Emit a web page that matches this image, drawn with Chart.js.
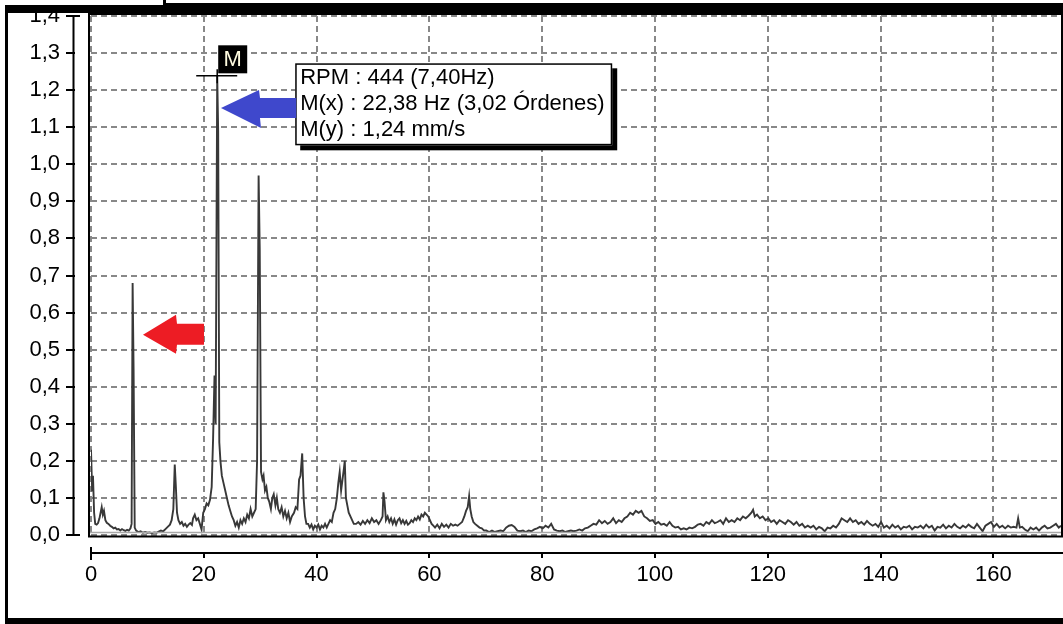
<!DOCTYPE html>
<html>
<head>
<meta charset="utf-8">
<script src="https://cdn.jsdelivr.net/npm/chart.js@4.4.1/dist/chart.umd.min.js"></script>
<style>
  html, body { margin: 0; padding: 0; background: #ffffff; }
  #wrap { position: relative; width: 1063px; height: 624px; overflow: hidden; }
  canvas { display: block; }
</style>
</head>
<body>
<div id="wrap"><canvas id="c" width="1063" height="624"></canvas></div>
<script>
// ---- Data ----
const freqHz = [
  0, 0.2, 0.35, 0.55, 0.75, 1.0, 1.25, 1.5, 1.7, 1.9, 2.1, 2.3, 2.55, 2.8, 3.1, 3.4, 3.7, 4.0, 4.3, 4.6,
  4.9, 5.2, 5.5, 5.8, 6.1, 6.4, 6.7, 7.0, 7.2, 7.38, 7.55, 7.75, 8.0, 8.4, 8.8, 9.2, 9.6, 10.0, 10.4, 10.8,
  11.2, 11.6, 12.0, 12.4, 12.8, 13.2, 13.6, 14.0, 14.3, 14.6, 14.85, 15.05, 15.25, 15.5, 15.8, 16.1, 16.4, 16.7, 17.0, 17.3,
  17.6, 17.9, 18.1, 18.4, 18.7, 19.0, 19.3, 19.6, 19.9, 20.2, 20.5, 20.8, 21.1, 21.4, 21.65, 21.9, 22.1, 22.38, 22.55, 22.75,
  22.95, 23.2, 23.5, 23.8, 24.1, 24.4, 24.7, 25.0, 25.3, 25.6, 25.9, 26.2, 26.5, 26.8, 27.1, 27.4, 27.7, 28.0, 28.3, 28.6,
  28.9, 29.2, 29.45, 29.72, 29.92, 30.15, 30.4, 30.6, 30.85, 31.1, 31.35, 31.6, 31.9, 32.15, 32.4, 32.7, 32.95, 33.2, 33.5, 33.8,
  34.1, 34.4, 34.7, 35.0, 35.3, 35.6, 36.0, 36.3, 36.6, 36.9, 37.15, 37.45, 37.7, 37.95, 38.2, 38.5, 38.8, 39.1, 39.4, 39.7,
  40.0, 40.3, 40.6, 40.9, 41.2, 41.5, 41.8, 42.1, 42.4, 42.7, 43.0, 43.3, 43.6, 43.85, 44.1, 44.35, 44.6, 44.85, 45.0, 45.2,
  45.45, 45.7, 46.0, 46.3, 46.6, 47.0, 47.4, 47.8, 48.2, 48.6, 49.0, 49.4, 49.8, 50.2, 50.6, 51.0, 51.4, 51.7, 51.85, 52.05,
  52.3, 52.6, 52.9, 53.2, 53.5, 53.8, 54.1, 54.4, 54.7, 55.0, 55.3, 55.6, 55.9, 56.2, 56.5, 56.8, 57.1, 57.4, 57.7, 58.0,
  58.3, 58.6, 58.9, 59.2, 59.5, 59.8, 60.1, 60.4, 60.7, 61.0, 61.4, 61.8, 62.2, 62.6, 63.0, 63.4, 63.8, 64.2, 64.6, 65.0,
  65.4, 65.8, 66.2, 66.5, 66.8, 67.05, 67.25, 67.5, 67.8, 68.1, 68.5, 68.9, 69.3, 69.7, 70.1, 70.6, 71.1, 71.6, 72.1, 72.6,
  73.1, 73.6, 74.1, 74.6, 75.1, 75.6, 76.1, 76.6, 77.1, 77.6, 78.1, 78.6, 79.1, 79.6, 80.1, 80.6, 81.1, 81.6, 82.1, 82.6,
  83.1, 83.6, 84.1, 84.6, 85.1, 85.6, 86.1, 86.6, 87.1, 87.6, 88.1, 88.6, 89.1, 89.6, 90.1, 90.6, 91.1, 91.6, 92.1, 92.6,
  93.1, 93.6, 94.1, 94.6, 95.1, 95.6, 96.1, 96.6, 97.1, 97.6, 98.1, 98.6, 99.1, 99.6, 100.1, 100.6, 101.1, 101.6, 102.1, 102.6,
  103.1, 103.6, 104.1, 104.6, 105.1, 105.6, 106.1, 106.6, 107.1, 107.6, 108.1, 108.6, 109.1, 109.6, 110.1, 110.6, 111.1, 111.6, 112.1, 112.6,
  113.1, 113.6, 114.1, 114.6, 115.1, 115.6, 116.1, 116.6, 117.1, 117.4, 117.7, 118.1, 118.6, 119.1, 119.6, 120.1, 120.6, 121.1, 121.6, 122.1,
  122.6, 123.1, 123.6, 124.1, 124.6, 125.1, 125.6, 126.1, 126.6, 127.1, 127.6, 128.1, 128.6, 129.1, 129.6, 130.1, 130.6, 131.1, 131.6, 132.1,
  132.6, 133.1, 133.6, 134.1, 134.6, 135.1, 135.6, 136.1, 136.6, 137.1, 137.6, 138.1, 138.6, 139.1, 139.6, 140.1, 140.6, 141.1, 141.6, 142.1,
  142.6, 143.1, 143.6, 144.1, 144.6, 145.1, 145.6, 146.1, 146.6, 147.1, 147.6, 148.1, 148.6, 149.1, 149.6, 150.1, 150.6, 151.1, 151.6, 152.1,
  152.6, 153.1, 153.6, 154.1, 154.6, 155.1, 155.6, 156.1, 156.6, 157.1, 157.6, 158.1, 158.6, 159.1, 159.6, 160.1, 160.6, 161.1, 161.6, 162.1,
  162.6, 163.1, 163.6, 164.1, 164.4, 164.7, 165.1, 165.6, 166.1, 166.6, 167.1, 167.6, 168.1, 168.6, 169.1, 169.6, 170.1, 170.6, 171.1, 171.6,
  172.0
];
const velMmS = [
  0.23, 0.12, 0.16, 0.06, 0.03, 0.028, 0.032, 0.045, 0.06, 0.075, 0.055, 0.065, 0.04, 0.033, 0.03, 0.025, 0.022, 0.018, 0.02, 0.015,
  0.016, 0.012, 0.016, 0.013, 0.011, 0.014, 0.012, 0.018, 0.03, 0.68, 0.45, 0.02, 0.012, 0.008, 0.01, 0.006, 0.008, 0.006, 0.007, 0.005,
  0.007, 0.006, 0.009, 0.012, 0.01, 0.016, 0.022, 0.028, 0.04, 0.07, 0.19, 0.13, 0.06, 0.04, 0.03, 0.035, 0.025, 0.03, 0.022, 0.028,
  0.032, 0.027, 0.045, 0.055, 0.04, 0.045, 0.03, 0.015, 0.06, 0.07, 0.085, 0.08, 0.095, 0.13, 0.26, 0.43, 0.3, 1.24, 1.09, 0.25,
  0.2, 0.16, 0.14, 0.12, 0.1, 0.08, 0.065, 0.05, 0.04, 0.025, 0.035, 0.02, 0.04, 0.03, 0.045, 0.035, 0.055, 0.045, 0.07, 0.05,
  0.06, 0.07, 0.2, 0.97, 0.77, 0.17, 0.15, 0.16, 0.12, 0.13, 0.1, 0.09, 0.07, 0.1, 0.11, 0.08, 0.1, 0.07, 0.06, 0.075,
  0.05, 0.065, 0.045, 0.06, 0.035, 0.05, 0.06, 0.075, 0.07, 0.15, 0.16, 0.22, 0.1, 0.05, 0.03, 0.03, 0.02, 0.028, 0.015, 0.025,
  0.02, 0.028, 0.015, 0.025, 0.02, 0.03, 0.02, 0.03, 0.04, 0.035, 0.06, 0.07, 0.1, 0.14, 0.17, 0.12, 0.15, 0.18, 0.2, 0.1,
  0.08, 0.06, 0.05, 0.04, 0.03, 0.03, 0.035, 0.028, 0.038, 0.03, 0.04, 0.032, 0.045, 0.035, 0.04, 0.03, 0.04, 0.05, 0.115, 0.09,
  0.04, 0.05, 0.035, 0.045, 0.03, 0.042, 0.028, 0.04, 0.045, 0.032, 0.04, 0.03, 0.038, 0.028, 0.032, 0.04, 0.035, 0.045, 0.04, 0.05,
  0.042, 0.055, 0.05, 0.06, 0.055, 0.05, 0.04, 0.03, 0.025, 0.02, 0.028, 0.018, 0.03, 0.022, 0.028, 0.02, 0.03, 0.025, 0.028, 0.025,
  0.03, 0.035, 0.05, 0.065, 0.075, 0.105, 0.07, 0.05, 0.035, 0.03, 0.025, 0.02, 0.018, 0.012, 0.012, 0.008, 0.012, 0.008, 0.01, 0.012,
  0.01, 0.02, 0.025, 0.027, 0.022, 0.012, 0.01, 0.012, 0.008, 0.012, 0.01, 0.015, 0.018, 0.022, 0.018, 0.025, 0.02, 0.03, 0.015, 0.012,
  0.01, 0.012, 0.008, 0.01, 0.012, 0.01, 0.012, 0.015, 0.012, 0.018, 0.02, 0.025, 0.03, 0.028, 0.04, 0.032, 0.038, 0.03, 0.035, 0.045,
  0.032, 0.04, 0.035, 0.045, 0.05, 0.06, 0.055, 0.065, 0.06, 0.065, 0.05, 0.045, 0.038, 0.04, 0.03, 0.035, 0.028, 0.03, 0.025, 0.035,
  0.025, 0.02, 0.022, 0.015, 0.018, 0.015, 0.02, 0.018, 0.022, 0.028, 0.03, 0.025, 0.035, 0.03, 0.04, 0.032, 0.035, 0.04, 0.03, 0.045,
  0.035, 0.04, 0.035, 0.045, 0.04, 0.05, 0.045, 0.052, 0.06, 0.068, 0.05, 0.055, 0.045, 0.05, 0.04, 0.045, 0.035, 0.04, 0.03, 0.04,
  0.035, 0.03, 0.04, 0.035, 0.028, 0.035, 0.025, 0.03, 0.02, 0.025, 0.02, 0.025, 0.015, 0.022, 0.018, 0.01, 0.02, 0.018, 0.025, 0.02,
  0.03, 0.045, 0.04, 0.035, 0.045, 0.035, 0.04, 0.03, 0.035, 0.028, 0.038, 0.03, 0.025, 0.03, 0.022, 0.035, 0.02, 0.025, 0.018, 0.028,
  0.02, 0.025, 0.015, 0.022, 0.02, 0.025, 0.015, 0.022, 0.02, 0.025, 0.018, 0.028, 0.02, 0.025, 0.012, 0.022, 0.02, 0.028, 0.018, 0.025,
  0.02, 0.03, 0.022, 0.018, 0.025, 0.02, 0.028, 0.022, 0.018, 0.03, 0.02, 0.01, 0.025, 0.03, 0.035, 0.022, 0.03, 0.02, 0.025, 0.018,
  0.025, 0.02, 0.022, 0.02, 0.045, 0.02, 0.022, 0.015, 0.01, 0.02, 0.015, 0.02, 0.012, 0.02, 0.025, 0.018, 0.02, 0.025, 0.03, 0.02,
  0.025
];
const xTicksHz = [0, 20, 40, 60, 80, 100, 120, 140, 160];
const yRange = [0, 1.4];
const xRange = [0, 172];
const marker = { x: 22.38, y: 1.24 };
const infoLines = ['RPM : 444 (7,40Hz)', 'M(x) : 22,38 Hz (3,02 Órdenes)', 'M(y) : 1,24 mm/s'];
const blueArrowTip = { x: 23.05, y: 1.152 };
const redArrowTip = { x: 9.22, y: 0.54 };

const FONT = { family: "'Liberation Sans', Arial, sans-serif", size: 22 };
const fmt = v => v.toFixed(1).replace('.', ',');

// ---- Overlay plugin: detached axes, frame, marker, annotations ----
const overlay = {
  id: 'overlay',
  beforeDraw(chart) {
    const c = chart.ctx;
    c.save();
    c.fillStyle = '#ffffff';
    c.fillRect(0, 0, chart.width, chart.height);
    c.restore();
  },
  afterDatasetsDraw(chart) {
    const c = chart.ctx, a = chart.chartArea;
    const xs = chart.scales.x, ys = chart.scales.y;
    c.save();
    // gray line just above the bottom border
    c.strokeStyle = '#a8a8a8'; c.lineWidth = 1.5;
    c.beginPath(); c.moveTo(a.left - 2, a.bottom - 2.5); c.lineTo(a.right, a.bottom - 2.5); c.stroke();
    // plot border
    c.strokeStyle = '#000'; c.lineWidth = 2;
    c.beginPath();
    c.moveTo(a.left - 2, a.bottom + 1.5); c.lineTo(a.left - 2, a.top - 2);
    c.lineTo(a.right + 1, a.top - 2); c.lineTo(a.right + 1, a.bottom + 1.5);
    c.closePath(); c.stroke();

    // detached Y axis
    const yAxisX = 73.5;
    c.lineWidth = 2;
    c.beginPath(); c.moveTo(yAxisX, ys.getPixelForValue(yRange[1])); c.lineTo(yAxisX, ys.getPixelForValue(yRange[0])); c.stroke();
    ys.ticks.forEach((t, i) => {
      const py = Math.round(ys.getPixelForValue(t.value));
      const isEnd = (i === 0 || i === ys.ticks.length - 1);
      c.beginPath(); c.moveTo(66, py); c.lineTo(isEnd ? 80 : 75, py); c.stroke();
    });
    // detached X axis
    const xAxisY = 553;
    c.beginPath(); c.moveTo(xs.getPixelForValue(xRange[0]), xAxisY); c.lineTo(chart.width, xAxisY); c.stroke();
    xs.ticks.forEach((t, i) => {
      const px = Math.round(xs.getPixelForValue(t.value));
      c.beginPath();
      if (i === 0) { c.moveTo(px, 547); c.lineTo(px, 560); }
      else { c.moveTo(px, xAxisY); c.lineTo(px, 558); }
      c.stroke();
    });

    // marker crosshair + "M" label
    const mx = xs.getPixelForValue(marker.x), my = ys.getPixelForValue(marker.y);
    c.lineWidth = 1.5; c.strokeStyle = '#000';
    c.beginPath(); c.moveTo(mx - 21, my + 0.5); c.lineTo(mx + 20, my + 0.5); c.stroke();
    c.beginPath(); c.moveTo(mx, my - 6); c.lineTo(mx, my + 8); c.stroke();
    c.fillStyle = '#000';
    c.fillRect(mx + 1, my - 30, 29, 28);
    c.fillStyle = '#fffbe0';
    c.font = `22px ${FONT.family}`;
    c.textAlign = 'center'; c.textBaseline = 'middle';
    c.fillText('M', mx + 15.5, my - 15);

    // info box
    const bx = mx + 78, by = my - 12, bw = 317, bh = 82;
    c.fillStyle = '#000';
    c.fillRect(bx + 5, by + 5, bw, bh);
    c.fillStyle = '#fff';
    c.fillRect(bx, by, bw, bh);
    c.lineWidth = 1.5; c.strokeStyle = '#000';
    c.strokeRect(bx + 0.75, by + 0.75, bw - 1.5, bh - 1.5);
    c.fillStyle = '#000';
    c.textAlign = 'left'; c.textBaseline = 'middle';
    infoLines.forEach((s, i) => c.fillText(s, bx + 5, by + 15 + i * 26));

    // blue arrow (pointing left to the marker peak)
    const bt = { x: xs.getPixelForValue(blueArrowTip.x), y: ys.getPixelForValue(blueArrowTip.y) };
    c.fillStyle = '#3f48cc';
    c.beginPath();
    c.moveTo(bt.x, bt.y);
    c.lineTo(bt.x + 38, bt.y - 18);
    c.lineTo(bt.x + 39, bt.y - 10);
    c.lineTo(bx + 1, bt.y - 10);
    c.lineTo(bx + 1, bt.y + 10);
    c.lineTo(bt.x + 39, bt.y + 10);
    c.lineTo(bt.x + 40, bt.y + 20);
    c.closePath(); c.fill();

    // red arrow
    const rt = { x: xs.getPixelForValue(redArrowTip.x), y: ys.getPixelForValue(redArrowTip.y) };
    c.fillStyle = '#ed1c24';
    c.beginPath();
    c.moveTo(rt.x, rt.y);
    c.lineTo(rt.x + 33, rt.y - 20);
    c.lineTo(rt.x + 34, rt.y - 11);
    c.lineTo(rt.x + 61, rt.y - 11);
    c.lineTo(rt.x + 61, rt.y + 10);
    c.lineTo(rt.x + 34, rt.y + 10);
    c.lineTo(rt.x + 33, rt.y + 19);
    c.closePath(); c.fill();
    c.restore();
  },
  afterDraw(chart) {
    const c = chart.ctx, W = chart.width, H = chart.height;
    c.save();
    c.fillStyle = '#000';
    // top band
    c.fillRect(5, 3, W - 5, 10);
    // left frame
    c.fillRect(5, 3, 3, H - 3);
    // bottom frame
    c.fillRect(5, H - 6, W - 5, 6);
    // tab at top-left
    c.fillStyle = '#fff';
    c.fillRect(0, 0, 163, 5);
    c.fillRect(166, 0, W - 166, 2);
    c.fillStyle = '#000';
    c.fillRect(163, 0, 3, 6);
    c.restore();
  }
};

const tickFont = { family: FONT.family, size: FONT.size };

new Chart(document.getElementById('c'), {
  type: 'line',
  data: {
    datasets: [{
      data: freqHz.map((f, i) => ({ x: f, y: velMmS[i] })),
      borderColor: '#383838',
      borderWidth: 1.9,
      pointRadius: 0,
      tension: 0,
      fill: false
    }]
  },
  options: {
    responsive: false,
    devicePixelRatio: 1,
    animation: false,
    events: [],
    layout: { padding: { left: 0, top: 16, right: 2, bottom: 0 } },
    plugins: { legend: { display: false }, tooltip: { enabled: false } },
    scales: {
      x: {
        type: 'linear', min: xRange[0], max: xRange[1],
        afterBuildTicks: s => { s.ticks = xTicksHz.map(v => ({ value: v })); },
        afterFit: s => { s.height = 89; s.paddingLeft = 0; s.paddingRight = 0; },
        ticks: { stepSize: 20, padding: 27, color: '#000', font: tickFont, maxRotation: 0, autoSkip: false },
        grid: { color: '#888888', lineWidth: 2, drawTicks: false },
        border: { display: false, dash: [6, 4] }
      },
      y: {
        min: yRange[0], max: yRange[1],
        afterFit: s => { s.width = 91; s.paddingTop = 0; s.paddingBottom = 0; },
        ticks: { stepSize: 0.1, padding: 31, color: '#000', font: tickFont, callback: v => fmt(v) },
        grid: { color: '#888888', lineWidth: 2, drawTicks: false },
        border: { display: false, dash: [6, 4] }
      }
    }
  },
  plugins: [overlay]
});
</script>
</body>
</html>
